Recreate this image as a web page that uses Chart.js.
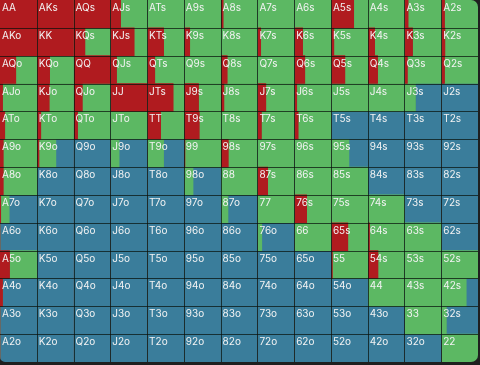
<!DOCTYPE html>
<html>
<head>
<meta charset="utf-8">
<script src="https://cdn.jsdelivr.net/npm/chart.js@4"></script>
<style>
  html, body { margin: 0; padding: 0; background: #1f1f1f; }
  #wrap { width: 480px; height: 365px; }
</style>
</head>
<body>
<div id="wrap"><canvas id="c" width="480" height="365"></canvas></div>
<script>
const ranks = ['A','K','Q','J','T','9','8','7','6','5','4','3','2'];

// fraction of each hand played as raise (per row of the grid)
const raise = [
  [1,1,1,0.28,0,0,0.07,0,0,0.62,0,0.1,0.09],
  [1,1,0.31,0.65,0.45,0.16,0,0.09,0.23,0.08,0.19,0.22,0.1],
  [0.43,0.35,1,0.17,0.21,0,0.18,0,0.29,0.38,0.27,0.08,0.09],
  [0.07,0.34,0.24,1,0.71,0.4,0.09,0.23,0.07,0,0,0,0],
  [0.13,0.11,0.11,0,0.37,0.42,0,0.11,0.11,0,0,0,0],
  [0.09,0.06,0,0,0,0.03,0.21,0,0,0,0,0,0],
  [0.09,0,0,0,0,0,0,0.28,0,0,0,0,0],
  [0.02,0,0,0,0,0,0,0,0.34,0,0,0,0],
  [0,0,0,0,0,0,0,0,0,0.46,0.05,0,0],
  [0.26,0,0,0,0,0,0,0,0,0.04,0.28,0,0],
  [0.07,0,0,0,0,0,0,0,0,0,0,0,0],
  [0,0,0,0,0,0,0,0,0,0,0,0,0],
  [0,0,0,0,0,0,0,0,0,0,0,0,0]
];
// fraction played as call
const call = [
  [0,0,0,0.72,1,1,0.93,1,1,0.38,1,0.9,0.91],
  [0,0,0.69,0.35,0.55,0.84,1,0.91,0.77,0.92,0.81,0.78,0.9],
  [0.57,0.65,0,0.83,0.79,1,0.82,1,0.71,0.62,0.73,0.92,0.91],
  [0.93,0.66,0.76,0,0.29,0.6,0.91,0.77,0.93,1,1,0.3,0],
  [0.87,0.89,0.89,1,0.63,0.58,1,0.89,0.89,0,0,0,0],
  [0.91,0.46,0,0.24,0.45,0.97,0.79,1,1,0.49,0,0,0],
  [0.91,0,0,0,0,0.25,1,0.72,1,1,0,0,0],
  [0.23,0,0,0,0,0,0.2,1,0.66,1,1,0,0],
  [0,0,0,0,0,0,0,0.12,1,0.54,0.95,1,0],
  [0.74,0,0,0,0,0,0,0,0,0.96,0.72,1,1],
  [0,0,0,0,0,0,0,0,0,0,1,1,0.68],
  [0,0,0,0,0,0,0,0,0,0,0,1,0.14],
  [0,0,0,0,0,0,0,0,0,0,0,0,1]
];

const COLORS = { raise: '#b01b1f', call: '#5cb863', fold: '#3a7d9b' };

function handName(r, c) {
  if (r === c) return ranks[r] + ranks[c];
  if (c > r) return ranks[r] + ranks[c] + 's';
  return ranks[c] + ranks[r] + 'o';
}

const rowLabels = ranks.map((_, i) => i);
const datasets = [];
for (let c = 0; c < 13; c++) {
  const rs = raise.map(row => row[c]);
  const cs = call.map(row => row[c]);
  const fs = raise.map((row, r) => Math.max(0, 1 - row[c] - call[r][c]));
  [['raise', rs], ['call', cs], ['fold', fs]].forEach(([k, d]) => {
    datasets.push({
      label: k + c, data: d, backgroundColor: COLORS[k], borderWidth: 0,
      barPercentage: 1, categoryPercentage: 1, stack: 'grid', borderSkipped: false
    });
  });
}

const gridPlugin = {
  id: 'gridPlugin',
  beforeDatasetsDraw(chart) {
    const { ctx, chartArea: a } = chart;
    ctx.save();
    ctx.beginPath();
    ctx.roundRect(a.left, a.top, a.right - a.left, a.bottom - a.top, [0, 7, 7, 5]);
    ctx.clip();
  },
  afterDatasetsDraw(chart) {
    const { ctx, chartArea: a, scales } = chart;
    const xs = scales.x, ys = scales.y;
    ctx.strokeStyle = 'rgba(8,18,12,0.72)';
    ctx.lineWidth = 1;
    ctx.beginPath();
    for (let k = 1; k < 13; k++) {
      const x = Math.round(xs.getPixelForValue(k)) + 0.5;
      ctx.moveTo(x, a.top); ctx.lineTo(x, a.bottom);
    }
    for (let r = 0; r < 12; r++) {
      const y = Math.round((ys.getPixelForValue(r) + ys.getPixelForValue(r + 1)) / 2) + 0.5;
      ctx.moveTo(a.left, y); ctx.lineTo(a.right, y);
    }
    ctx.stroke();
    const rowH = ys.getPixelForValue(1) - ys.getPixelForValue(0);
    ctx.fillStyle = '#f3f3f3';
    ctx.font = '10px Inter, "Noto Sans", sans-serif';
    ctx.textBaseline = 'top';
    ctx.textAlign = 'left';
    for (let r = 0; r < 13; r++) {
      const top = ys.getPixelForValue(r) - rowH / 2;
      for (let c = 0; c < 13; c++) {
        ctx.fillText(handName(r, c), xs.getPixelForValue(c) + 2, top + 3);
      }
    }
    ctx.restore();
  }
};

new Chart(document.getElementById('c'), {
  type: 'bar',
  data: { labels: rowLabels, datasets },
  options: {
    indexAxis: 'y',
    responsive: false,
    animation: false,
    layout: { padding: { left: 0, top: 0, right: 2, bottom: 3 } },
    plugins: { legend: { display: false }, tooltip: { enabled: false } },
    scales: {
      x: { type: 'linear', stacked: true, min: 0, max: 13, display: false },
      y: { type: 'category', stacked: true, display: false }
    }
  },
  plugins: [gridPlugin]
});
</script>
</body>
</html>
